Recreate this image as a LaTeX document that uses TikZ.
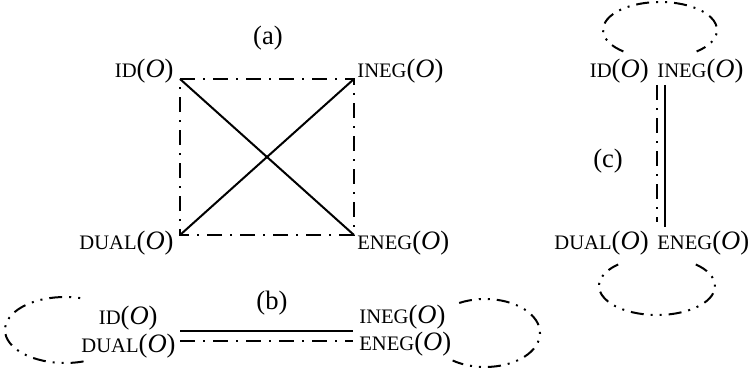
\documentclass[tikz,border=0pt]{standalone}
\usepackage{fontspec}
\setmainfont{Liberation Serif}
\newcommand{\sclab}[1]{{\fontsize{10.3}{10}\selectfont #1}(\textit{O})}

\begin{document}
\begin{tikzpicture}[x=0.5pt, y=-0.5pt,
    every node/.style={inner sep=0pt, font=\fontsize{13.3}{15}\selectfont},
    solidline/.style={line width=1pt},
    chainline/.style={line width=1pt, dash pattern=on 7.5pt off 4pt on 1pt off 4pt},
    loopline/.style={line width=1pt, dash pattern=on 6.5pt off 3.5pt on 1pt off 3.5pt on 1pt off 3.5pt}]
	\useasboundingbox (0,0) rectangle (748,374);
	% (a)
	\node (capA) at (268,38) {(a)};
	\node[anchor=base east] (aID) at (174,78) {\sclab{ID}};
	\node[anchor=base west] (aINEG) at (357,78) {\sclab{INEG}};
	\node[anchor=base east] (aDUAL) at (174,249) {\sclab{DUAL}};
	\node[anchor=base west] (aENEG) at (357,249) {\sclab{ENEG}};
	\coordinate (aTL) at (180,79);
	\coordinate (aTR) at (354,79);
	\coordinate (aBL) at (180,235);
	\coordinate (aBR) at (354,235);
	\draw[chainline] (aTL) -- (aTR) -- (aBR) -- (aBL) -- cycle;
	\draw[solidline] (aTL) -- (aBR);
	\draw[solidline] (aBL) -- (aTR);
	% (b)
	\node (capB) at (272,303) {(b)};
	\node[anchor=base east] (bID) at (158,324) {\sclab{ID}};
	\node[anchor=base east] (bDUAL) at (176,352) {\sclab{DUAL}};
	\node[anchor=base west] (bINEG) at (359,323) {\sclab{INEG}};
	\node[anchor=base west] (bENEG) at (359,350) {\sclab{ENEG}};
	\coordinate (bS1) at (180,331);
	\coordinate (bS2) at (353,331);
	\coordinate (bC1) at (180,341);
	\coordinate (bC2) at (353,341);
	\draw[solidline] (bS1) -- (bS2);
	\draw[chainline] (bC1) -- (bC2);
	\draw[loopline] (65,330) ++(72:60 and 33) arc[start angle=72, end angle=288, x radius=60, y radius=33];
	\draw[loopline] (485,333) ++(-118:55 and 34) arc[start angle=-118, end angle=126, x radius=55, y radius=34];
	% (c)
	\node (capC) at (608,161) {(c)};
	\node[anchor=base east] (cID) at (649,77) {\sclab{ID}};
	\node[anchor=base west] (cINEG) at (657,77) {\sclab{INEG}};
	\node[anchor=base east] (cDUAL) at (649,249) {\sclab{DUAL}};
	\node[anchor=base west] (cENEG) at (657,249) {\sclab{ENEG}};
	\coordinate (cC1) at (657,85);
	\coordinate (cC2) at (657,222);
	\coordinate (cS1) at (665,85);
	\coordinate (cS2) at (665,227);
	\draw[chainline] (cC1) -- (cC2);
	\draw[solidline] (cS1) -- (cS2);
	\draw[loopline] (660,30) ++(-230:57 and 28) arc[start angle=-230, end angle=50, x radius=57, y radius=28];
	\draw[loopline] (657,286) ++(-48:58 and 29) arc[start angle=-48, end angle=228, x radius=58, y radius=29];
\end{tikzpicture}
\end{document}
